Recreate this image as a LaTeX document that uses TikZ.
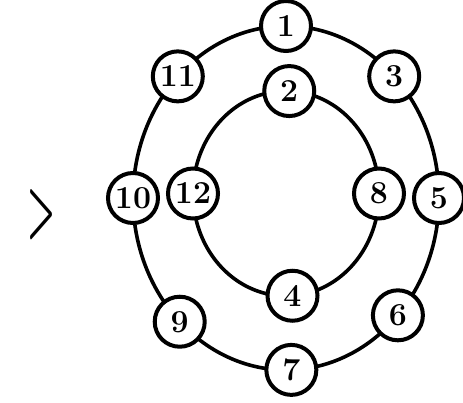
\documentclass[tikz,border=0pt]{standalone}
\usepackage{fontspec}
\usepackage{graphicx}
\usetikzlibrary{backgrounds}
\tikzset{
  num/.style={circle, draw=black, line width=4pt, fill=white, minimum size=50pt, inner sep=0pt,
    font=\fontsize{32}{32}\selectfont\bfseries},
  link/.style={line width=3.6pt, black}
}
\begin{document}
\begin{tikzpicture}[x=1pt,y=1pt]
\useasboundingbox (0,0) rectangle (463,-403);
% outer ring: centre (286,-198), radii 153 and 172
\node[num] (n1)  at ([shift={(286,-198)}]90:153 and 172)   {1};
\node[num] (n3)  at ([shift={(286,-198)}]45:153 and 172)   {3};
\node[num] (n5)  at ([shift={(286,-198)}]0:153 and 172)    {5};
\node[num] (n6)  at ([shift={(286,-198)}]-43:153 and 172)  {6};
\node[num] (n7)  at ([shift={(286,-198)}]-88:153 and 172)  {7};
\node[num] (n9)  at ([shift={(286,-198)}]-134:153 and 172) {9};
\node[num] (n10) at ([shift={(286,-198)}]180:153 and 172)  {10};
\node[num] (n11) at ([shift={(286,-198)}]135:153 and 172)  {11};
% inner ring: centre (286,-193.5), radii 93 and 102.5
\node[num] (n2)  at ([shift={(286,-193.5)}]88:93 and 102.5)  {2};
\node[num] (n8)  at ([shift={(286,-193.5)}]0:93 and 102.5)   {8};
\node[num] (n4)  at ([shift={(286,-193.5)}]-86:93 and 102.5) {4};
\node[num] (n12) at ([shift={(286,-193.5)}]180:93 and 102.5) {12};
\begin{scope}[on background layer]
% outer connectors
\draw[link] (n1.center)  arc[start angle=90,   end angle=45,   x radius=153, y radius=172];
\draw[link] (n3.center)  arc[start angle=45,   end angle=0,    x radius=153, y radius=172];
\draw[link] (n5.center)  arc[start angle=0,    end angle=-43,  x radius=153, y radius=172];
\draw[link] (n6.center)  arc[start angle=-43,  end angle=-88,  x radius=153, y radius=172];
\draw[link] (n7.center)  arc[start angle=-88,  end angle=-134, x radius=153, y radius=172];
\draw[link] (n9.center)  arc[start angle=-134, end angle=-180, x radius=153, y radius=172];
\draw[link] (n10.center) arc[start angle=180,  end angle=135,  x radius=153, y radius=172];
\draw[link] (n11.center) arc[start angle=135,  end angle=90,   x radius=153, y radius=172];
% inner connectors
\draw[link] (n2.center)  arc[start angle=88,  end angle=0,    x radius=93, y radius=102.5];
\draw[link] (n8.center)  arc[start angle=0,   end angle=-86,  x radius=93, y radius=102.5];
\draw[link] (n4.center)  arc[start angle=-86, end angle=-180, x radius=93, y radius=102.5];
\draw[link] (n12.center) arc[start angle=180, end angle=88,   x radius=93, y radius=102.5];
\end{scope}
% arrow mark
\node[inner sep=0pt] (gt) at (42,-215) {\resizebox{28pt}{44pt}{\bfseries >}};
\end{tikzpicture}
\end{document}
